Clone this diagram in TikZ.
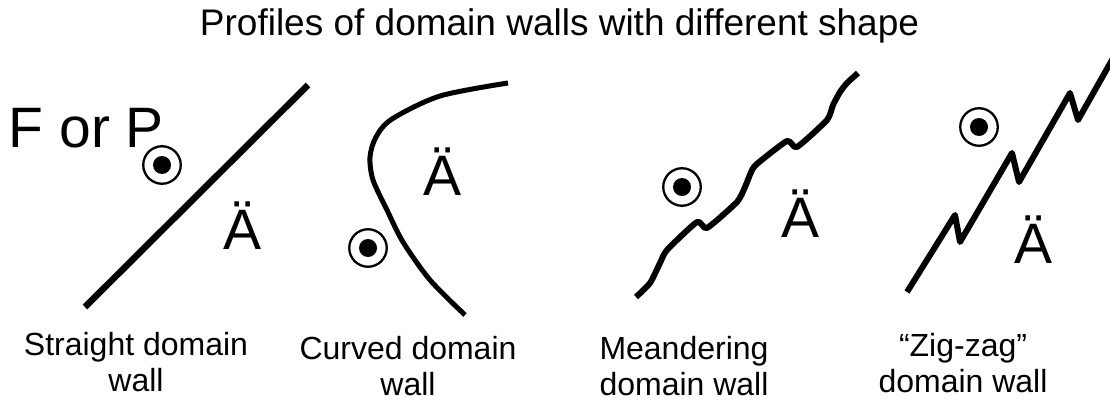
\documentclass[tikz,border=0pt]{standalone}
\usepackage{fontspec}
\setmainfont{Liberation Sans}
\tikzset{
  spin/.style={circle,draw,line width=2.3pt,minimum size=37.5pt,inner sep=0pt,
    path picture={\fill (path picture bounding box.center) circle (9pt);}},
  big/.style={font=\fontsize{57}{66}\selectfont,inner sep=0pt,anchor=base},
  lbl/.style={font=\fontsize{32}{36}\selectfont,inner sep=0pt,anchor=base},
}
\newcommand{\twolines}[2]{\begin{tabular}[t]{@{}c@{}}#1\\#2\end{tabular}}
\begin{document}
\begin{tikzpicture}[x=1pt,y=-1pt]
  \fill[white] (0,0) rectangle (1110,401);
  \clip (0,0) rectangle (1110,401);
  \draw
    (559.5,36) node[lbl,font=\fontsize{37}{44}\selectfont] (title){Profiles of domain walls with different shape}
    (8.5,147) node[big,anchor=base west] (fp){F or P}
    (243,249) node[big] (a1){Ä}
    (443,195) node[big] (a2){Ä}
    (800,237) node[big] (a3){Ä}
    (1033,263) node[big] (a4){Ä}
    (162,165) node[spin] (s1){}
    (368,248) node[spin] (s2){}
    (682,187) node[spin] (s3){}
    (979,127) node[spin] (s4){}
    (136,355) node[lbl] (l1){\twolines{Straight domain}{wall}}
    (408,359) node[lbl] (l2){\twolines{Curved domain}{wall}}
    (684,359) node[lbl] (l3){\twolines{Meandering}{domain wall}}
    (963,356) node[lbl] (l4){\twolines{“Zig-zag”}{domain wall}};
  \begin{scope}[line width=6.5pt]
    % straight
    \draw (85,307) -- (308,85);
    % curved
    \draw[line width=5pt] plot[smooth] coordinates {(508,83) (440,96) (392,119) (376,137)
      (370,157) (373,180) (387,210) (403,242) (430,280) (465,315)};
    % meandering
    \draw[line width=6pt,line join=round] plot[smooth,tension=0.35] coordinates {(636,297) (650,283)
      (660,263) (667,250) (697,222) (707,228) (737,202) (745,187) (752,170) (758,163)
      (787,141) (797,147) (827,120) (833,105) (840,92) (847,83) (858,73)};
    % zig-zag
    \draw[line width=6pt,line join=round] (907,292) -- (955,215) -- (960,242) -- (1012,153)
      -- (1019,182) -- (1070,93) -- (1078,120) -- (1125,37);
  \end{scope}
\end{tikzpicture}
\end{document}
